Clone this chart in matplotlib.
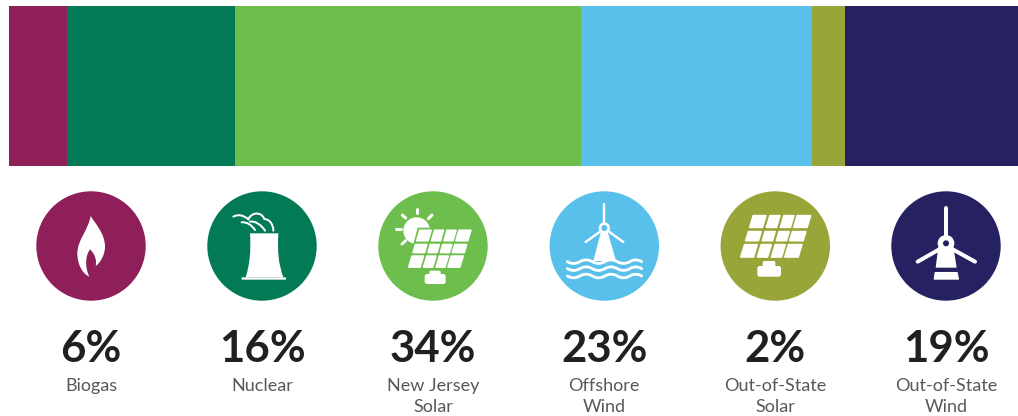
import matplotlib
matplotlib.use("Agg")
import matplotlib.pyplot as plt
from matplotlib.patches import Circle, PathPatch, Polygon, FancyBboxPatch
from matplotlib.path import Path

# ---- data ----
categories = ["Biogas", "Nuclear", "New Jersey\nSolar", "Offshore\nWind",
              "Out-of-State\nSolar", "Out-of-State\nWind"]
share_labels = ["6%", "16%", "34%", "23%", "2%", "19%"]
# widths of the stacked segments (pixels of a 1009 px bar)
segment_widths = [58, 168, 346, 231, 33, 173]
colors = ["#8E1F58", "#037A56", "#6DBE4C", "#58C0EA", "#9AA539", "#262262"]
centers = [91, 262, 433, 604.3, 775.3, 946]

BAR_LEFT, BAR_TOP, BAR_H = 9, 6, 160
CY, R = 246, 54.7
W = "white"

fig = plt.figure(figsize=(10.18, 4.16), dpi=100)
ax = fig.add_axes([0, 0, 1, 1])
ax.set_xlim(0, 1018)
ax.set_ylim(416, 0)
ax.axis("off")

left = BAR_LEFT
for w, c in zip(segment_widths, colors):
    ax.barh(BAR_TOP + BAR_H / 2, w, height=BAR_H, left=left, color=c, linewidth=0)
    left += w


def Z(pts, x0):
    """Zoomed-crop coordinates to figure pixels."""
    return [(x0 + x / 3, 180 + y / 3) for x, y in pts]


def line(pts, x0, lw, color=W, cap="round"):
    v = Z(pts, x0)
    ax.plot([p[0] for p in v], [p[1] for p in v], color=color, lw=lw * 0.72,
            solid_capstyle=cap, solid_joinstyle="round")


def curve(pts, x0, lw, color=W):
    """pts: start followed by cubic triples."""
    v = Z(pts, x0)
    codes = [Path.MOVETO] + [Path.CURVE4] * (len(v) - 1)
    ax.add_patch(PathPatch(Path(v, codes), fc="none", ec=color, lw=lw * 0.72, capstyle="round"))


def filled(pts, x0, color=W, rj=0.0):
    ax.add_patch(Polygon(Z(pts, x0), closed=True, fc=color, ec=color, lw=rj, joinstyle="round"))


def rrect(x, y, w, h, x0, r=6, color=W):
    (px, py), = Z([(x, y)], x0)
    ax.add_patch(FancyBboxPatch((px + r / 3, py + r / 3), w / 3 - 2 * r / 3, h / 3 - 2 * r / 3,
                                boxstyle=f"round,pad={r/3}", fc=color, ec="none"))


def disc(x, y, r, x0, color=W):
    (px, py), = Z([(x, y)], x0)
    ax.add_patch(Circle((px, py), r / 3, fc=color, ec="none"))


# circles
for cx, c in zip(centers, colors):
    ax.add_patch(Circle((cx, CY), R, fc=c, ec="none"))

# flame
flame = [(272, 108), (285, 130), (315, 160), (315, 200), (315, 225), (300, 250), (287, 258),
         (290, 245), (288, 225), (270, 208), (258, 225), (252, 255), (268, 290),
         (245, 280), (232, 250), (232, 220), (232, 180), (265, 150), (272, 108)]
ax.add_patch(PathPatch(Path(Z(flame, 0), [Path.MOVETO] + [Path.CURVE4] * 18), fc=W, ec="none"))

# nuclear tower
tower = [(750, 160), (835, 160), (832, 215), (835, 250), (850, 292), (737, 292), (750, 250),
         (753, 215), (750, 160)]
ax.add_patch(PathPatch(Path(Z(tower, 0), [Path.MOVETO, Path.LINETO, Path.CURVE4, Path.CURVE4, Path.CURVE4,
                                          Path.LINETO, Path.CURVE4, Path.CURVE4, Path.CURVE4]), fc=W, ec="none"))
rrect(725, 292, 133, 7, 0, r=1)
curve([(700, 110), (715, 102), (730, 105), (745, 118), (755, 95), (785, 95), (793, 117),
       (810, 118), (820, 135), (820, 152)], 0, 2.0)
curve([(725, 127), (740, 125), (755, 135), (765, 150)], 0, 2.0)
curve([(750, 125), (765, 122), (785, 135), (795, 152)], 0, 2.0)


# solar panels
def solar(x0, tl, top, sc, rows, cols):
    for r0, r1 in rows:
        for c0, c1 in cols:
            y0, y1 = top + r0 * sc, top + r1 * sc
            pts = [(tl + (c0 - 0.3 * r0) * sc, y0), (tl + (c1 - 0.3 * r0) * sc, y0),
                   (tl + (c1 - 0.3 * r1) * sc, y1), (tl + (c0 - 0.3 * r1) * sc, y1)]
            filled(pts, x0, rj=1.2)


ROWS = [(1, 36), (49, 76), (88, 125)]
COLS = [(2, 40), (52, 82), (94, 124), (134, 174)]

# New Jersey solar with sun
disc(230, 152, 40, 340)
filled([(233, 143), (400, 143), (375, 270), (200, 270)], 340, colors[2])
solar(340, 238, 150, 0.89, ROWS, COLS)
for seg in [[(231, 88), (231, 100)], [(187, 105), (197, 114)], [(265, 116), (276, 105)],
            [(168, 148), (183, 148)], [(186, 192), (197, 182)]]:
    line(seg, 340, 3)
rrect(254, 282, 63, 30, 340, r=7)
rrect(268, 272, 34, 20, 340, r=5)

# out-of-state solar
solar(680, 218, 106, 1.0, ROWS, COLS)
rrect(232, 258, 71, 32, 680, r=7)
rrect(248, 243, 38, 22, 680, r=5)

# offshore turbine
filled([(783, 155), (803, 155), (828, 243), (760, 243)], 340)
line([(793, 72), (793, 130)], 340, 2.4)
line([(737, 186), (780, 155)], 340, 2.4)
line([(850, 186), (807, 155)], 340, 2.4)
disc(793, 144, 17, 340)
disc(793, 144, 9, 340, colors[3])
for wy in (245, 266, 288):
    pts = [(682, wy)]
    codes = [Path.MOVETO]
    xs = 682
    sign = 1
    while xs < 900:
        nx = min(xs + 37.5, 905)
        pts += [((xs + nx) / 2, wy + sign * 11), (nx, wy)]
        codes += [Path.CURVE3, Path.CURVE3]
        xs = nx
        sign = -sign
    ax.add_patch(PathPatch(Path(Z(pts, 340), codes), fc="none", ec=W, lw=2.8 * 0.72, capstyle="round"))

# out-of-state turbine
filled([(775, 200), (820, 200), (830, 263), (767, 263)], 680)
line([(798, 85), (798, 170)], 680, 4)
line([(713, 245), (778, 208)], 680, 4)
line([(885, 245), (818, 208)], 680, 4)
disc(798, 190, 25, 680)
disc(798, 190, 9, 680, colors[5])
filled([(766, 278), (831, 278), (835, 297), (763, 297)], 680, rj=1.0)

# text
for cx, pct, cat in zip(centers, share_labels, categories):
    ax.text(cx, 361.5, pct, ha="center", va="baseline", fontsize=31.5, fontweight="bold",
            family="Lato", color="#231F20")
    for i, part in enumerate(cat.split("\n")):
        ax.text(cx, 391 + i * 21, part, ha="center", va="baseline", fontsize=13,
                fontweight="normal", family="Lato", color="#58585A")

fig.savefig("out.png", dpi=100, facecolor="white")
